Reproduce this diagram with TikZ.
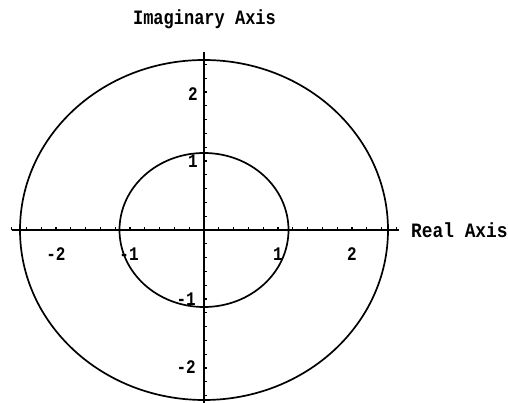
\documentclass[tikz,border=0pt]{standalone}
\usepackage{fontspec}
\usetikzlibrary{calc}
\newfontfamily\plotfont{Liberation Mono}[BoldFont={Liberation Mono Bold}]
\begin{document}
\begin{tikzpicture}[x=1pt,y=-1pt,
  axisline/.style={line width=1.8pt},
  curve/.style={line width=1.7pt},
  tickmark/.style={line width=1.2pt},
  lbl/.style={inner sep=0pt,font=\plotfont\bfseries\fontsize{17}{17}\selectfont},
  ticklbl/.style={inner sep=0pt,font=\plotfont\bfseries\fontsize{16}{16}\selectfont}]
\useasboundingbox (0,0) rectangle (508,403);
% origin
\coordinate (O) at (204,230);
% axes
\coordinate (xl) at (12,230);
\coordinate (xr) at (399,230);
\coordinate (yt) at (204,52);
\coordinate (yb) at (204,403);
\draw[axisline] (xl) -- (xr);
\draw[axisline] (yt) -- (yb);
% ticks on the real axis (every 0.2, above the axis)
\foreach \k in {-13,...,13}{
  \draw[tickmark] ($(O)+(\k*14.8,0)$) -- ++(0,-3);
}
% ticks on the imaginary axis (every 0.2, right of the axis)
\foreach \k in {-12,...,12}{
  \draw[tickmark] ($(O)+(0,\k*13.8)$) -- ++(3,0);
}
% circles
\draw[curve] (O) ellipse [x radius=184, y radius=170];
\draw[curve] (O) ellipse [x radius=84.5, y radius=77];
% tick labels
\node[ticklbl] (xm2) at (56,254) {\scalebox{1}[1.2]{-2}};
\node[ticklbl] (xm1) at (129,254) {\scalebox{1}[1.2]{-1}};
\node[ticklbl] (xp1) at (278,254) {\scalebox{1}[1.2]{1}};
\node[ticklbl] (xp2) at (352,254) {\scalebox{1}[1.2]{2}};
\node[ticklbl,anchor=east] (yp2) at (198,94) {\scalebox{1}[1.2]{2}};
\node[ticklbl,anchor=east] (yp1) at (198,161) {\scalebox{1}[1.2]{1}};
\node[ticklbl,anchor=east] (ym1) at (196,299) {\scalebox{1}[1.2]{-1}};
\node[ticklbl,anchor=east] (ym2) at (196,367) {\scalebox{1}[1.2]{-2}};
% axis titles
\node[lbl] (ytitle) at (204.5,19) {\scalebox{1}[1.2]{Imaginary Axis}};
\node[lbl,anchor=west] (xtitle) at (411,230) {\scalebox{1.05}[1.2]{Real Axis}};
\end{tikzpicture}
\end{document}
